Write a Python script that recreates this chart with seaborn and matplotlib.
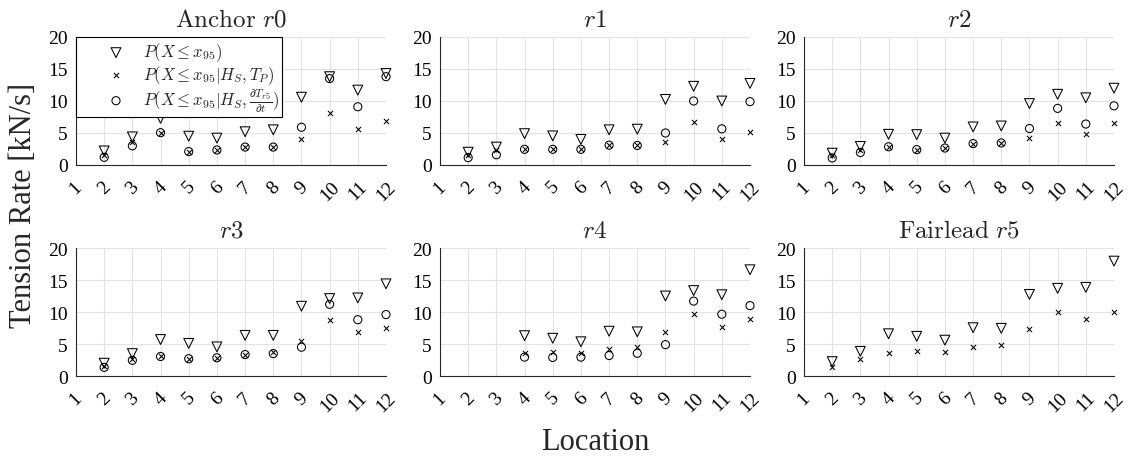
import numpy as np
import pandas as pd
import matplotlib
matplotlib.use("Agg")
import matplotlib.pyplot as plt
import seaborn as sns

# Locations along the line and the mooring segments shown in each panel
locations = np.arange(1, 13)
tick_labels = [str(i) for i in locations]
panel_titles = [r"$\mathrm{Anchor}\ r0$", r"$r1$", r"$r2$",
                r"$r3$", r"$r4$", r"$\mathrm{Fairlead}\ r5$"]

nan = np.nan
# 95th percentile tension rate [kN/s], unconditional
p95_r0 = [nan, 2.2, 4.4, 7.3, 4.5, 4.2, 5.2, 5.5, 10.6, 13.8, 11.7, 14.3]
p95_r1 = [nan, 2.0, 2.8, 4.9, 4.55, 4.0, 5.5, 5.6, 10.25, 12.3, 10.0, 12.75]
p95_r2 = [nan, 1.85, 2.9, 4.8, 4.75, 4.2, 5.95, 6.1, 9.6, 11.05, 10.5, 12.0]
p95_r3 = [nan, 2.0, 3.5, 5.7, 5.1, 4.55, 6.35, 6.35, 10.9, 12.1, 12.2, 14.4]
p95_r4 = [nan, nan, nan, 6.3, 5.9, 5.35, 7.0, 6.9, 12.5, 13.35, 12.7, 16.6]
p95_r5 = [nan, 2.25, 3.85, 6.6, 6.2, 5.6, 7.55, 7.45, 12.75, 13.7, 13.85, 17.95]

# conditioned on Hs, Tp
hstp_r0 = [nan, 1.5, 3.6, 5.05, 2.1, 2.35, 2.8, 2.8, 4.0, 8.1, 5.6, 6.9]
hstp_r1 = [nan, 1.6, 2.35, 2.45, 2.45, 2.45, 3.1, 3.05, 3.65, 6.75, 4.1, 5.1]
hstp_r2 = [nan, 1.5, 2.35, 2.85, 2.4, 2.65, 3.35, 3.45, 4.15, 6.55, 4.8, 6.55]
hstp_r3 = [nan, 1.5, 2.6, 3.05, 2.7, 2.85, 3.35, 3.8, 5.5, 8.8, 6.95, 7.55]
hstp_r4 = [nan, nan, nan, 3.55, 3.8, 3.55, 4.2, 4.55, 6.9, 9.7, 7.7, 8.95]
hstp_r5 = [nan, 1.4, 2.6, 3.65, 3.95, 3.75, 4.6, 4.9, 7.3, 9.95, 8.9, 9.95]

# conditioned on Hs and fairlead tension rate
hsdt_r0 = [nan, 1.2, 3.0, 5.05, 2.1, 2.35, 2.8, 2.8, 5.9, 13.5, 9.1, 13.8]
hsdt_r1 = [nan, 1.15, 1.6, 2.45, 2.45, 2.45, 3.1, 3.05, 5.0, 10.0, 5.65, 9.9]
hsdt_r2 = [nan, 1.1, 1.95, 2.85, 2.4, 2.65, 3.35, 3.45, 5.7, 8.85, 6.4, 9.25]
hsdt_r3 = [nan, 1.35, 2.45, 3.05, 2.7, 2.85, 3.35, 3.5, 4.5, 11.2, 8.8, 9.6]
hsdt_r4 = [nan, nan, nan, 2.95, 2.9, 2.95, 3.2, 3.55, 4.9, 11.7, 9.65, 11.0]
hsdt_r5 = [nan] * 12

series_labels = [r"$P(X \leq x_{95})$",
                 r"$P(X \leq x_{95} | H_S, T_P)$",
                 r"$P(X \leq x_{95} | H_S, \frac{\partial T_{r5}}{\partial t})$"]

p95 = [p95_r0, p95_r1, p95_r2, p95_r3, p95_r4, p95_r5]
hstp = [hstp_r0, hstp_r1, hstp_r2, hstp_r3, hstp_r4, hstp_r5]
hsdt = [hsdt_r0, hsdt_r1, hsdt_r2, hsdt_r3, hsdt_r4, hsdt_r5]

sns.set_theme(style="white")
plt.rcParams["font.family"] = ["Liberation Serif", "DejaVu Serif"]
plt.rcParams["mathtext.fontset"] = "cm"

W, H = 1131, 460
fig = plt.figure(figsize=(W / 100, H / 100), dpi=100)

col_left = [76, 440, 804]
row_top = [38, 249]
ax_w, ax_h = 310, 128

for k in range(6):
    r, c = divmod(k, 3)
    ax = fig.add_axes([col_left[c] / W, 1 - (row_top[r] + ax_h) / H, ax_w / W, ax_h / H])
    df = pd.DataFrame({"loc": locations, "p95": p95[k], "hstp": hstp[k], "hsdt": hsdt[k]})

    sns.scatterplot(data=df, x="loc", y="p95", marker="v", s=50, facecolor="none",
                    edgecolor="black", linewidth=0.75, clip_on=False, zorder=3,
                    label=series_labels[0], ax=ax)
    sns.scatterplot(data=df, x="loc", y="hstp", marker="x", s=14, color="black",
                    linewidth=0.75, clip_on=False, zorder=3,
                    label=series_labels[1], ax=ax)
    sns.scatterplot(data=df, x="loc", y="hsdt", marker="o", s=34, facecolor="none",
                    edgecolor="black", linewidth=0.75, clip_on=False, zorder=3,
                    label=series_labels[2], ax=ax)

    ax.set_xlim(1, 12)
    ax.set_ylim(0, 20)
    ax.set_xticks(locations)
    ax.set_xticklabels(tick_labels, rotation=45, ha="center", va="top")
    ax.set_yticks([0, 5, 10, 15, 20])
    ax.set_xlabel("")
    ax.set_ylabel("")
    ax.grid(True, color="#e3e3e3", linewidth=0.8)
    ax.set_axisbelow(True)
    for side in ["top", "right"]:
        ax.spines[side].set_visible(False)
    for side in ["left", "bottom"]:
        ax.spines[side].set_color("#262626")
        ax.spines[side].set_linewidth(0.8)
    ax.tick_params(axis="both", direction="in", length=3, width=0.6,
                   colors="#262626", labelcolor="black", labelsize=14)
    ax.tick_params(axis="x", pad=9)
    ax.tick_params(axis="y", pad=6)
    ax.set_title(panel_titles[k], fontsize=18, pad=8)

    if k == 0:
        leg = ax.legend(loc="upper left", bbox_to_anchor=(0, 1), borderaxespad=0,
                        frameon=True, fancybox=False, framealpha=1, edgecolor="black",
                        fontsize=12, handlelength=4.4, handletextpad=-0.6,
                        borderpad=0.2, labelspacing=0.0, handleheight=0.5)
        leg.get_frame().set_linewidth(0.8)
        leg.set_zorder(5)
    else:
        ax.get_legend().remove()

fig.text(24 / W, 1 - 205 / H, "Tension Rate [kN/s]", rotation=90,
         ha="center", va="center", fontsize=22)
fig.text(595 / W, 1 - 443 / H, "Location", ha="center", va="center", fontsize=22)

fig.savefig("out.png", dpi=100)
